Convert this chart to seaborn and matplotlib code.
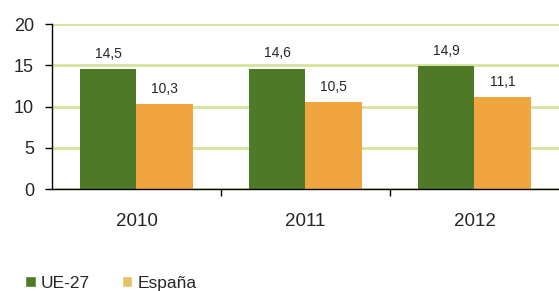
import matplotlib
matplotlib.use("Agg")
import matplotlib.pyplot as plt
import seaborn as sns
import pandas as pd
from matplotlib.patches import Patch
from matplotlib.ticker import FixedLocator

years = ["2010", "2011", "2012"]
series = ["UE-27", "España"]
ue27 = [14.5, 14.6, 14.9]
espana = [10.3, 10.5, 11.1]

df = pd.DataFrame({
    "year": years * 2,
    "serie": [series[0]] * 3 + [series[1]] * 3,
    "valor": ue27 + espana,
})

sns.set_style("white")
plt.rcParams["font.family"] = ["Liberation Sans", "DejaVu Sans"]

green = "#4e7a27"
orange = "#f0a53f"
legend_orange = "#e3c265"
grid_c = "#d6e39a"

fig = plt.figure(figsize=(5.59, 2.91), dpi=100)
ax = fig.add_axes([0.093, 0.35, 0.907, 0.5675])

sns.barplot(data=df, x="year", y="valor", hue="serie", palette=[green, orange],
            width=0.67, gap=0, ax=ax, legend=False, saturation=1,
            edgecolor="none", linewidth=0)

ax.set_ylim(0, 20)
ax.set_xlim(-0.5, 2.5)
ax.set_yticks([0, 5, 10, 15, 20])
ax.yaxis.grid(True, color=grid_c, linewidth=2)
ax.set_axisbelow(True)
ax.set_xlabel("")
ax.set_ylabel("")

for s in ["top", "right"]:
    ax.spines[s].set_visible(False)
for s in ["left", "bottom"]:
    ax.spines[s].set_color("black")
    ax.spines[s].set_linewidth(1)

ax.tick_params(axis="y", which="major", direction="out", length=5, width=1,
               color="black", labelsize=13, pad=8, left=True)
ax.tick_params(axis="x", which="major", length=0, labelsize=13.5, pad=17.5)
ax.xaxis.set_minor_locator(FixedLocator([0.5, 1.5]))
ax.tick_params(axis="x", which="minor", direction="out", length=5, width=1,
               color="black", bottom=True)

for cont in ax.containers:
    ax.bar_label(cont, labels=[f"{v:.1f}".replace(".", ",") for v in cont.datavalues],
                 padding=6, fontsize=10)

handles = [Patch(facecolor=green, label=series[0]),
           Patch(facecolor=legend_orange, label=series[1])]
fig.legend(handles=handles, loc="center left", bbox_to_anchor=(0.045, 0.027), ncol=2,
           frameon=False, fontsize=12.5, handlelength=0.6, handleheight=0.6,
           handletextpad=0.3, columnspacing=1.85, borderaxespad=0, borderpad=0)

fig.savefig("out.png", dpi=100)
